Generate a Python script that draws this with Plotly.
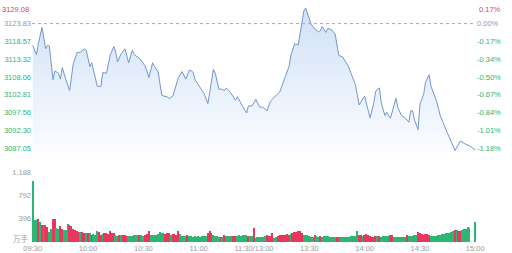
import plotly.graph_objects as go

# ---------------- data ----------------
pre_close = 3123.83
price_ticks = [3129.08, 3123.83, 3118.57, 3113.32, 3108.06, 3102.81, 3097.56, 3092.30, 3087.05]
price_tick_labels = ["3129.08", "3123.83", "3118.57", "3113.32", "3108.06", "3102.81", "3097.56", "3092.30", "3087.05"]
pct_tick_labels = ["0.17%", "0.00%", "-0.17%", "-0.34%", "-0.50%", "-0.67%", "-0.84%", "-1.01%", "-1.18%"]

time_ticks = [0, 30, 60, 90, 120, 150, 180, 210, 240]          # minute index of session
time_labels = ["09:30", "10:00", "10:30", "11:00", "11:30/13:00", "13:30", "14:00", "14:30", "15:00"]

vol_ticks = [396, 792, 1188]
vol_tick_labels = ["396", "792", "1,188"]
vol_unit = "万手"

# price line (minute index, price)
price_minute = [0, 2, 3, 5, 7, 8, 9, 11, 12, 14, 15, 16, 18, 20, 22, 24, 26, 28, 29, 31,
                32, 35, 37, 38, 40, 42, 44, 45, 46, 48, 50, 51, 52, 54, 55, 56, 58, 61, 63, 65,
                66, 68, 70, 73, 74, 76, 77, 79, 81, 83, 85, 87, 88, 91, 93, 95, 98, 99, 101, 102,
                104, 105, 107, 110, 111, 114, 116, 117, 119, 121, 123, 125, 127, 129, 131, 134, 137, 139, 140, 142,
                144, 146, 147, 148, 149, 151, 153, 155, 156, 157, 159, 160, 162, 164, 166, 168, 171, 173, 175, 177,
                180, 181, 183, 185, 186, 188, 189, 191, 192, 194, 196, 197, 198, 200, 202, 204, 205, 206, 207, 209,
                210, 212, 213, 215, 216, 218, 219, 221, 223, 225, 227, 229, 232, 234, 237, 239, 240]
price_value = [3117.37, 3114.65, 3117.84, 3122.67, 3116.39, 3117.37, 3117.17, 3107.24, 3109.84, 3109.15,
               3107.41, 3110.80, 3107.24, 3104.05, 3112.04, 3115.23, 3115.43, 3116.39, 3115.92, 3111.09,
               3112.25, 3105.30, 3105.30, 3109.35, 3109.15, 3114.48, 3117.08, 3115.43, 3112.54, 3114.94,
               3116.39, 3114.48, 3112.25, 3115.92, 3114.65, 3114.27, 3113.49, 3111.29, 3107.90, 3112.25,
               3111.09, 3109.64, 3102.60, 3102.11, 3101.62, 3102.40, 3104.05, 3107.90, 3109.64, 3107.41,
               3110.13, 3109.44, 3107.24, 3104.63, 3103.07, 3100.17, 3110.31, 3109.15, 3104.34, 3104.51,
               3104.05, 3104.80, 3103.64, 3101.15, 3102.20, 3099.21, 3097.39, 3099.50, 3099.50, 3101.44,
               3099.21, 3099.01, 3098.06, 3100.95, 3101.91, 3103.64, 3108.19, 3111.09, 3114.48, 3117.84,
               3117.55, 3123.63, 3127.51, 3128.46, 3127.02, 3123.63, 3122.18, 3121.43, 3121.72, 3122.96,
               3121.22, 3122.38, 3122.01, 3120.73, 3114.42, 3113.98, 3111.38, 3108.68, 3105.79, 3099.79,
               3102.40, 3100.08, 3095.94, 3100.46, 3103.85, 3104.80, 3100.46, 3096.61, 3097.56, 3095.83,
               3099.99, 3101.73, 3099.01, 3096.61, 3095.94, 3094.67, 3098.06, 3098.06, 3095.36, 3092.47,
               3099.99, 3102.89, 3106.45, 3108.68, 3105.30, 3102.69, 3100.95, 3096.61, 3093.71, 3091.31,
               3088.87, 3086.27, 3089.16, 3088.41, 3087.63, 3086.67, 3086.47]
assert len(price_minute) == len(price_value)

# volume per minute (万手) and direction u=up(red) d=down(green)
volume = [1040, 362, 362, 390, 330, 290, 290, 290, 250, 165,
          220, 380, 380, 232, 210, 266, 221, 192, 200, 305,
          290, 266, 221, 192, 175, 164, 160, 164, 153, 140,
          150, 140, 120, 130, 110, 175, 165, 120, 136, 153,
          153, 130, 175, 153, 150, 110, 100, 110, 107, 107,
          107, 100, 96, 90, 96, 107, 110, 107, 115, 110,
          100, 110, 130, 175, 119, 119, 110, 119, 125, 164,
          153, 150, 136, 153, 150, 119, 136, 136, 120, 175,
          130, 100, 100, 96, 110, 96, 90, 85, 90, 85,
          90, 85, 96, 90, 100, 153, 175, 150, 107, 100,
          96, 80, 79, 85, 107, 96, 90, 96, 90, 96,
          96, 100, 107, 100, 107, 119, 110, 96, 90, 96,
          232, 62, 79, 79, 85, 80, 90, 107, 96, 96,
          150, 62, 70, 96, 110, 119, 119, 119, 125, 119,
          136, 153, 164, 170, 175, 175, 150, 119, 110, 107,
          100, 85, 79, 107, 96, 85, 90, 85, 96, 96,
          90, 75, 70, 70, 70, 79, 79, 79, 79, 75,
          79, 85, 85, 90, 96, 100, 175, 119, 119, 100,
          119, 125, 119, 90, 85, 80, 96, 90, 96, 85,
          90, 96, 90, 90, 119, 107, 79, 79, 79, 85,
          79, 85, 79, 107, 96, 96, 96, 107, 110, 164,
          150, 136, 119, 136, 125, 119, 96, 96, 90, 96,
          107, 110, 136, 136, 150, 150, 153, 164, 175, 205,
          190, 175, 175, 192, 209, 221, 240, 230, 0, 0,
          334]
volume_dir_rows = [
    "dddududuud", "duudduuddd", "uuuuuuduud", "ududdduudu",
    "uuuuuddudu", "uuddddddud", "duuudddddd", "dduuuduuuu",
    "dddduddddd", "ddddduuudd", "ddududdddu", "uddddddudd",
    "udddddduuu", "udduuuuuuu", "duuuuuuddd", "dddudduddd",
    "ddddduuddd", "ddddddduud", "uuuuuuudud", "dddduudddd",
    "dddudddddu", "uuuuuudddd", "dddddddddu", "duuddddddd",
    "d",
]
volume_dir = "".join(volume_dir_rows)
assert len(volume) == 241 and len(volume_dir) == 241

RED = "#e8365d"
GREEN = "#2bb673"
GRAY = "#999999"
FONT = "Liberation Sans, Arial, sans-serif"
FS = 7.5

vol_minutes = list(range(len(volume)))
bar_colors = [RED if c == "u" else GREEN for c in volume_dir]


def tick_color(v):
    if v > pre_close + 1e-6:
        return RED
    if abs(v - pre_close) < 1e-6:
        return GRAY
    return GREEN


left_text = [f'<span style="color:{tick_color(v)}">{t}</span>' for v, t in zip(price_ticks, price_tick_labels)]
right_text = [f'<span style="color:{tick_color(v)}">{t}</span>' for v, t in zip(price_ticks, pct_tick_labels)]

fig = go.Figure()

fig.add_trace(go.Scatter(
    x=price_minute, y=price_value, mode="lines",
    line=dict(color="#7196cd", width=1),
    fill="tozeroy",
    fillgradient=dict(type="vertical", colorscale=[[0, "#fcfdff"], [1, "#cfe0f6"]],
                      start=3085.6, stop=3129.62),
    xaxis="x", yaxis="y", showlegend=False, hoverinfo="skip",
))
fig.add_trace(go.Scatter(x=price_minute, y=price_value, mode="none",
                         xaxis="x", yaxis="y3", showlegend=False, hoverinfo="skip"))

fig.add_trace(go.Bar(
    x=vol_minutes, y=volume, marker=dict(color=bar_colors, line=dict(width=0)),
    width=0.8, xaxis="x2", yaxis="y2", showlegend=False, hoverinfo="skip",
))

xr = [-0.4, 240.4]
pdom = [0.3745, 1.0]
prange = [3085.60, 3129.62]
fig.update_layout(
    width=512, height=253,
    margin=dict(l=32, r=36, t=0, b=10),
    paper_bgcolor="white", plot_bgcolor="white",
    font=dict(family=FONT, size=FS, color=GRAY),
    bargap=0,
    xaxis=dict(domain=[0, 1], range=xr, anchor="y", showticklabels=False,
               showgrid=False, zeroline=False, showline=False, ticks=""),
    xaxis2=dict(domain=[0, 1], range=xr, anchor="y2", tickvals=time_ticks, ticktext=time_labels,
                showgrid=False, zeroline=False, showline=False, ticks="",
                tickfont=dict(size=FS, color=GRAY), tickangle=0),
    yaxis=dict(domain=pdom, range=prange,
               tickvals=price_ticks[1:], ticktext=left_text[1:],
               showgrid=False, zeroline=False, showline=False, ticks="",
               tickfont=dict(size=FS)),
    yaxis3=dict(overlaying="y", side="right", range=prange,
                tickvals=price_ticks[1:], ticktext=right_text[1:],
                showgrid=False, zeroline=False, showline=False, ticks="",
                tickfont=dict(size=FS), anchor="x"),
    yaxis2=dict(domain=[0, 0.29218], range=[0, 1188], tickvals=vol_ticks, ticktext=vol_tick_labels,
                showgrid=False, zeroline=False, showline=False, ticks="",
                tickfont=dict(size=FS, color=GRAY), anchor="x2"),
    shapes=[dict(type="line", xref="paper", x0=0, x1=1, yref="y", y0=pre_close, y1=pre_close,
                 line=dict(color="#aaaaaa", width=1, dash="3px,3px"))],
    annotations=[
        dict(xref="paper", x=0, xanchor="right", xshift=-1, yref="y", y=price_ticks[0], yshift=-4,
             text=price_tick_labels[0], showarrow=False, font=dict(size=FS, color=RED)),
        dict(xref="paper", x=1, xanchor="left", xshift=1, yref="y", y=price_ticks[0], yshift=-4,
             text=pct_tick_labels[0], showarrow=False, font=dict(size=FS, color=RED)),
        dict(xref="paper", x=0, xanchor="right", xshift=-1, yref="y2", y=0, yshift=4,
             text=vol_unit, showarrow=False,
             font=dict(size=FS, color=GRAY, family="Noto Sans CJK SC, sans-serif")),
    ],
)

fig.write_html("out.html")
